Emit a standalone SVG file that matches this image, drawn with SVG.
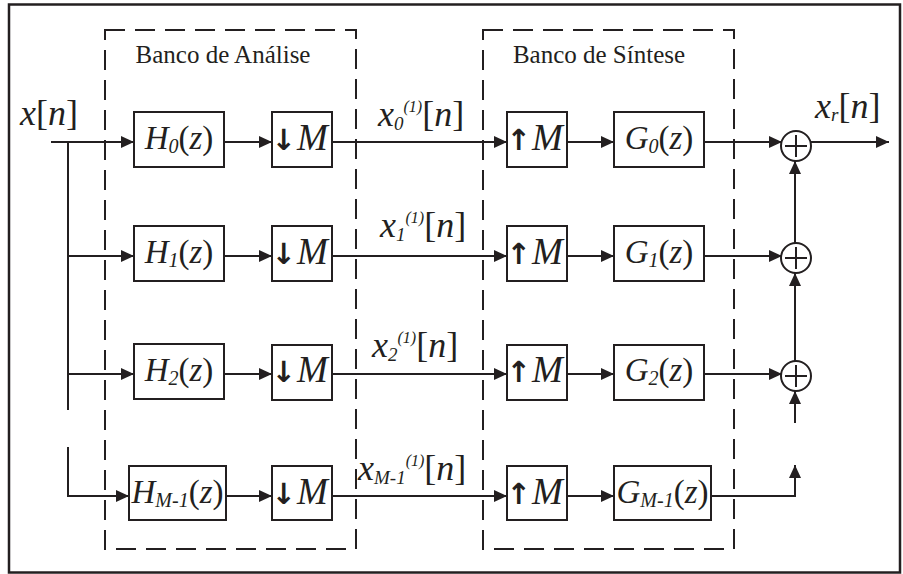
<svg xmlns="http://www.w3.org/2000/svg" width="903" height="574" viewBox="0 0 903 574">
<defs>
<marker id="ah" markerUnits="userSpaceOnUse" markerWidth="14" markerHeight="12" refX="13" refY="6" orient="auto">
<path d="M0,0 L13,6 L0,12 Z" fill="#231f20"/>
</marker>
<style>
.ln{fill:none;stroke:#231f20;stroke-width:2}
.bx{fill:#fff;stroke:#231f20;stroke-width:2}
.dash{fill:none;stroke:#231f20;stroke-width:2;stroke-dasharray:20 10}
.lbl{font-family:'Liberation Serif','Times New Roman',Tinos,'DejaVu Serif',serif;font-size:25px;fill:#231f20}
.m{font-family:'Liberation Serif','Times New Roman',Tinos,'DejaVu Serif',serif;font-style:italic;font-size:33px;fill:#231f20}
.big{font-size:36px}
.r{font-style:normal}
.sub{font-size:20px}
.s1{font-size:19px}
.s2{font-size:16px}
.mm{font-size:37px}
.arr{font-family:'DejaVu Sans',sans-serif;font-style:normal;font-weight:bold;font-size:29px}
</style>
</defs>
<rect x="9" y="4.5" width="891" height="568" fill="#fff" stroke="#231f20" stroke-width="2.5"/>
<g id="banco-analise">
<rect class="dash" x="105" y="30" width="251" height="519"/>
<text class="lbl" x="223" y="63" text-anchor="middle">Banco de Análise</text>
</g>
<g id="banco-sintese">
<rect class="dash" x="483" y="30" width="251" height="519"/>
<text class="lbl" x="599" y="63" text-anchor="middle">Banco de Síntese</text>
</g>
<g id="connectors">
<path class="ln" d="M51,142 H134" marker-end="url(#ah)"/>
<path class="ln" d="M68,142 V410"/>
<path class="ln" d="M68,447 V496 H129" marker-end="url(#ah)"/>
<path class="ln" d="M68,256 H134" marker-end="url(#ah)"/>
<path class="ln" d="M68,374 H134" marker-end="url(#ah)"/>
<path class="ln" d="M224,142 H272" marker-end="url(#ah)"/>
<path class="ln" d="M224,256 H272" marker-end="url(#ah)"/>
<path class="ln" d="M224,374 H272" marker-end="url(#ah)"/>
<path class="ln" d="M226,496 H272" marker-end="url(#ah)"/>
<path class="ln" d="M332,142 H507" marker-end="url(#ah)"/>
<path class="ln" d="M332,256 H507" marker-end="url(#ah)"/>
<path class="ln" d="M332,374 H507" marker-end="url(#ah)"/>
<path class="ln" d="M332,496 H507" marker-end="url(#ah)"/>
<path class="ln" d="M567,142 H614" marker-end="url(#ah)"/>
<path class="ln" d="M567,256 H614" marker-end="url(#ah)"/>
<path class="ln" d="M567,374 H614" marker-end="url(#ah)"/>
<path class="ln" d="M567,496 H614" marker-end="url(#ah)"/>
<path class="ln" d="M704,142 H782" marker-end="url(#ah)"/>
<path class="ln" d="M704,256 H782" marker-end="url(#ah)"/>
<path class="ln" d="M704,374 H782" marker-end="url(#ah)"/>
<path class="ln" d="M711,496 H795 V465" marker-end="url(#ah)"/>
<path class="ln" d="M795,423 V391" marker-end="url(#ah)"/>
<path class="ln" d="M795,361 V273" marker-end="url(#ah)"/>
<path class="ln" d="M795,243 V161" marker-end="url(#ah)"/>
<path class="ln" d="M811,142 H889" marker-end="url(#ah)"/>
</g>
<g id="x-in"><text class="m big" x="20" y="125">x<tspan class="r">[</tspan>n<tspan class="r">]</tspan></text></g>
<g id="H0"><rect class="bx" x="134" y="112" width="90" height="55"/><text class="m" x="179" y="149" text-anchor="middle">H<tspan class="sub" dy="4">0</tspan><tspan class="r" dy="-4">(</tspan>z<tspan class="r">)</tspan></text></g>
<g id="H1"><rect class="bx" x="134" y="226" width="90" height="55"/><text class="m" x="179" y="263" text-anchor="middle">H<tspan class="sub" dy="4">1</tspan><tspan class="r" dy="-4">(</tspan>z<tspan class="r">)</tspan></text></g>
<g id="H2"><rect class="bx" x="134" y="344" width="90" height="55"/><text class="m" x="179" y="381" text-anchor="middle">H<tspan class="sub" dy="4">2</tspan><tspan class="r" dy="-4">(</tspan>z<tspan class="r">)</tspan></text></g>
<g id="HM1"><rect class="bx" x="129" y="466" width="97" height="54"/><text class="m" x="177.5" y="503" text-anchor="middle">H<tspan class="sub" dy="4">M-1</tspan><tspan class="r" dy="-4">(</tspan>z<tspan class="r">)</tspan></text></g>
<g id="D0"><rect class="bx" x="272" y="112" width="60" height="55"/><text class="m mm" y="150"><tspan class="arr" x="271.5">↓</tspan><tspan x="297">M</tspan></text></g>
<g id="D1"><rect class="bx" x="272" y="226" width="60" height="55"/><text class="m mm" y="264"><tspan class="arr" x="271.5">↓</tspan><tspan x="297">M</tspan></text></g>
<g id="D2"><rect class="bx" x="272" y="345" width="60" height="55"/><text class="m mm" y="382"><tspan class="arr" x="271.5">↓</tspan><tspan x="297">M</tspan></text></g>
<g id="D3"><rect class="bx" x="272" y="466" width="60" height="54"/><text class="m mm" y="504"><tspan class="arr" x="271.5">↓</tspan><tspan x="297">M</tspan></text></g>
<g id="U0"><rect class="bx" x="507" y="112" width="60" height="55"/><text class="m mm" y="150"><tspan class="arr" x="506.5">↑</tspan><tspan x="532">M</tspan></text></g>
<g id="U1"><rect class="bx" x="507" y="226" width="60" height="55"/><text class="m mm" y="264"><tspan class="arr" x="506.5">↑</tspan><tspan x="532">M</tspan></text></g>
<g id="U2"><rect class="bx" x="507" y="345" width="60" height="55"/><text class="m mm" y="382"><tspan class="arr" x="506.5">↑</tspan><tspan x="532">M</tspan></text></g>
<g id="U3"><rect class="bx" x="507" y="466" width="60" height="54"/><text class="m mm" y="504"><tspan class="arr" x="506.5">↑</tspan><tspan x="532">M</tspan></text></g>
<g id="G0"><rect class="bx" x="614" y="112" width="90" height="55"/><text class="m" x="659" y="149" text-anchor="middle">G<tspan class="sub" dy="4">0</tspan><tspan class="r" dy="-4">(</tspan>z<tspan class="r">)</tspan></text></g>
<g id="G1"><rect class="bx" x="614" y="226" width="90" height="55"/><text class="m" x="659" y="263" text-anchor="middle">G<tspan class="sub" dy="4">1</tspan><tspan class="r" dy="-4">(</tspan>z<tspan class="r">)</tspan></text></g>
<g id="G2"><rect class="bx" x="614" y="345" width="90" height="55"/><text class="m" x="659" y="381" text-anchor="middle">G<tspan class="sub" dy="4">2</tspan><tspan class="r" dy="-4">(</tspan>z<tspan class="r">)</tspan></text></g>
<g id="GM1"><rect class="bx" x="614" y="466" width="97" height="54"/><text class="m" x="662.5" y="503" text-anchor="middle">G<tspan class="sub" dy="4">M-1</tspan><tspan class="r" dy="-4">(</tspan>z<tspan class="r">)</tspan></text></g>
<g id="S0"><circle class="bx" cx="796" cy="146" r="15"/><path class="ln" stroke-width="1.5" d="M785,146 H807 M796,135 V157"/></g>
<g id="S1"><circle class="bx" cx="796" cy="258" r="15"/><path class="ln" stroke-width="1.5" d="M785,258 H807 M796,247 V269"/></g>
<g id="S2"><circle class="bx" cx="796" cy="376" r="15"/><path class="ln" stroke-width="1.5" d="M785,376 H807 M796,365 V387"/></g>
<g id="lbl-x0"><text class="m big" x="378" y="126">x<tspan class="s1" dy="4">0</tspan><tspan class="s2" dy="-18">(1)</tspan><tspan class="r" dy="14">[</tspan>n<tspan class="r">]</tspan></text></g>
<g id="lbl-x1"><text class="m big" x="380" y="237">x<tspan class="s1" dy="4">1</tspan><tspan class="s2" dy="-18">(1)</tspan><tspan class="r" dy="14">[</tspan>n<tspan class="r">]</tspan></text></g>
<g id="lbl-x2"><text class="m big" x="372" y="357">x<tspan class="s1" dy="4">2</tspan><tspan class="s2" dy="-18">(1)</tspan><tspan class="r" dy="14">[</tspan>n<tspan class="r">]</tspan></text></g>
<g id="lbl-xM1"><text class="m big" x="358" y="480">x<tspan class="s1" dy="4">M-1</tspan><tspan class="s2" dy="-18">(1)</tspan><tspan class="r" dy="14">[</tspan>n<tspan class="r">]</tspan></text></g>
<g id="lbl-xr"><text class="m big" x="815" y="118">x<tspan class="s1" dy="3">r</tspan><tspan class="r" dy="-3">[</tspan>n<tspan class="r">]</tspan></text></g>
</svg>
